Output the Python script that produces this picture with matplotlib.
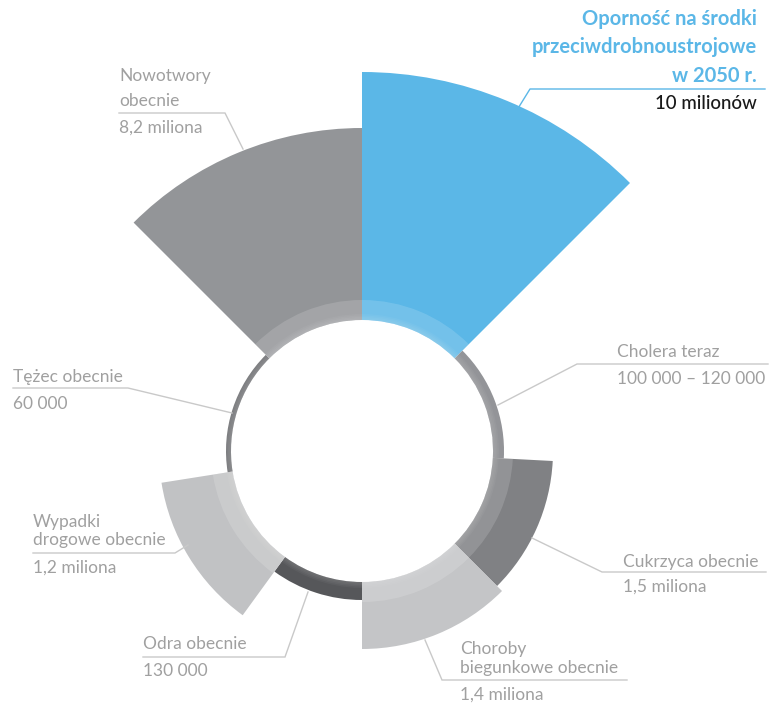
import numpy as np
import matplotlib.pyplot as plt

# =========================================================================================================
# Data (clockwise from 12 o'clock)
# =========================================================================================================

categories = ["AMR 2050", "Cholera", "Cukrzyca", "Choroby biegunkowe",
              "Odra", "Wypadki drogowe", "Tężec", "Nowotwory"]
sector_start = [0, 45, 93, 135, 180, 216, 261, 315]      # degrees, clockwise from top
sector_width = [45, 48, 42, 45, 36, 45, 54, 45]
bar_length = [248, 11, 60, 67, 18, 72, 5, 192]            # length of each sector beyond the hole
sector_colors = ["#5bb7e7", "#939498", "#808184", "#c4c5c7",
                 "#56575a", "#c1c2c4", "#76777a", "#939598"]

label_lines = [
    ["Cholera teraz", "100 000 – 120 000"],
    ["Cukrzyca obecnie", "1,5 miliona"],
    ["Choroby", "biegunkowe obecnie", "1,4 miliona"],
    ["Odra obecnie", "130 000"],
    ["Wypadki", "drogowe obecnie", "1,2 miliona"],
    ["Tężec obecnie", "60 000"],
    ["Nowotwory", "obecnie", "8,2 miliona"],
]
title_lines = ["Oporność na środki", "przeciwdrobnoustrojowe", "w 2050 r."]
title_value = "10 milionów"

HOLE = 131
W, H = 774, 704
CX, CY = 362, 451
RMAX = 380

BLUE = "#5bb7e7"
GREY_TXT = "#a0a0a0"
LEADER = "#c9c9c9"
FONT = "Lato"

fig = plt.figure(figsize=(W / 100, H / 100), dpi=100)

# =========================================================================================================
# Polar sectors
# =========================================================================================================

ax = fig.add_axes([(CX - RMAX) / W, (H - CY - RMAX) / H, 2 * RMAX / W, 2 * RMAX / H], projection="polar")
ax.set_theta_zero_location("N")
ax.set_theta_direction(-1)
ax.set_rlim(0, RMAX)
ax.axis("off")

theta = np.deg2rad(np.array(sector_start) + np.array(sector_width) / 2)
widths = np.deg2rad(sector_width)
ax.bar(theta, bar_length, width=widths, bottom=HOLE, color=sector_colors, linewidth=0, zorder=2)

# lighter band next to the hole on the big sectors
for t, w, h in zip(theta, widths, bar_length):
    if h > 20:
        ax.bar(t, 20, width=w, bottom=HOLE, color="white", alpha=0.15, linewidth=0, zorder=3)

# soft white glow around the hole
for k in range(4):
    ax.bar(0, 1.5 + 1.5 * k, width=2 * np.pi, bottom=HOLE, color="white", alpha=0.04, linewidth=0, zorder=4)

# =========================================================================================================
# Labels and leader lines (pixel coordinates)
# =========================================================================================================

ov = fig.add_axes([0, 0, 1, 1])
ov.set_xlim(0, W)
ov.set_ylim(H, 0)
ov.axis("off")

leaders = [
    [(768, 364), (577, 364), (498, 405)],
    [(766, 572), (602, 572), (532, 538)],
    [(627, 680), (442, 680), (425, 640)],
    [(143, 657), (285, 657), (308, 592)],
    [(33, 553), (175, 553), (188, 545)],
    [(13, 388), (128, 388), (232, 413)],
    [(119, 113), (225, 113), (243, 149)],
]
for pts in leaders:
    xs, ys = zip(*pts)
    ov.plot(xs, ys, color=LEADER, lw=1, solid_joinstyle="miter")

label_x = [617, 623, 460, 143, 33, 13, 119]
label_baselines = [
    [357, 384],
    [567, 592],
    [654, 673, 700],
    [649, 676],
    [527, 545, 573],
    [382, 409],
    [81, 106, 133],
]
for x, lines, ys in zip(label_x, label_lines, label_baselines):
    for txt, y in zip(lines, ys):
        ov.text(x, y, txt, ha="left", va="baseline", fontsize=12.5, color=GREY_TXT,
                family=FONT, fontweight="normal")

# title for the highlighted sector
ov.plot([517, 530, 765], [110, 89, 89], color=BLUE, lw=1)
for txt, y in zip(title_lines, [25, 53, 82]):
    ov.text(757, y, txt, ha="right", va="baseline", fontsize=14.5, color=BLUE,
            family=FONT, fontweight="bold")
ov.text(757, 109, title_value, ha="right", va="baseline", fontsize=13.5, color="#1a1a1a",
        family=FONT, fontweight="medium")

fig.savefig("out.png", dpi=100)
